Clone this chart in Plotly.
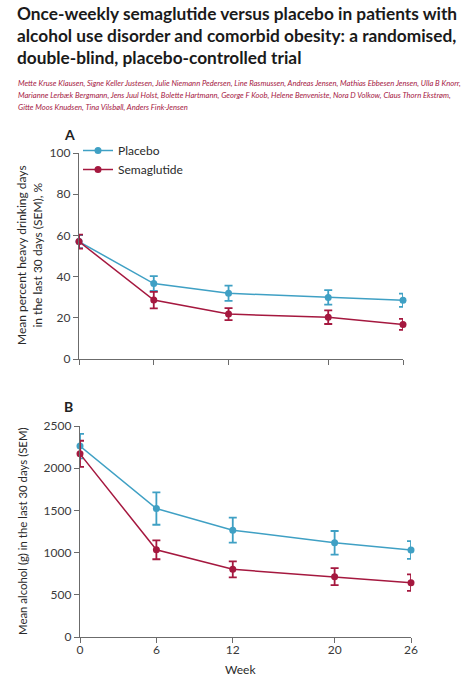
import plotly.graph_objects as go

weeks = [0, 6, 12, 20, 26]

# Panel A: mean percent heavy drinking days (SEM)
hdd_placebo = [57.0, 36.6, 31.9, 29.9, 28.5]
hdd_placebo_sem = [3.2, 3.6, 3.7, 3.5, 3.2]
hdd_sema = [57.0, 28.6, 21.8, 20.3, 16.8]
hdd_sema_sem = [3.4, 4.0, 2.9, 3.3, 2.7]

# Panel B: mean alcohol (g) in the last 30 days (SEM)
alc_placebo = [2262, 1522, 1266, 1116, 1030]
alc_placebo_sem = [145, 192, 148, 140, 105]
alc_sema = [2170, 1033, 802, 715, 644]
alc_sema_sem = [155, 112, 95, 100, 98]

series_names = ["Placebo", "Semaglutide"]
col_placebo = "#3fa0c4"
col_sema = "#a5183f"

title_lines = [
    "Once-weekly semaglutide versus placebo in patients with",
    "alcohol use disorder and comorbid obesity: a randomised,",
    "double-blind, placebo-controlled trial",
]
author_lines = [
    "Mette Kruse Klausen, Signe Keller Justesen, Julie Niemann Pedersen, Line Rasmussen, Andreas Jensen, Mathias Ebbesen Jensen, Ulla B Knorr,",
    "Marianne Lerbæk Bergmann, Jens Juul Holst, Bolette Hartmann, George F Koob, Helene Benveniste, Nora D Volkow, Claus Thorn Ekstrøm,",
    "Gitte Moos Knudsen, Tina Vilsbøll, Anders Fink-Jensen",
]

FONT = "Lato"
W, H = 472, 680


def px(x):
    return x / W


def py(y):
    return 1 - y / H


fig = go.Figure()


def add_series(x, y, e, name, color, xa, ya, show):
    fig.add_trace(go.Scatter(
        x=x, y=y, name=name, mode="lines+markers",
        line=dict(color=color, width=1.5),
        marker=dict(color=color, size=7),
        error_y=dict(type="data", array=e, visible=True, color=color,
                     thickness=1.8, width=4),
        xaxis=xa, yaxis=ya, showlegend=show, cliponaxis=False,
    ))


add_series(weeks, hdd_placebo, hdd_placebo_sem, series_names[0], col_placebo, "x", "y", True)
add_series(weeks, hdd_sema, hdd_sema_sem, series_names[1], col_sema, "x", "y", True)
add_series(weeks, alc_placebo, alc_placebo_sem, series_names[0], col_placebo, "x2", "y2", False)
add_series(weeks, alc_sema, alc_sema_sem, series_names[1], col_sema, "x2", "y2", False)

axis_common = dict(showline=True, linecolor="#6b6b6b", linewidth=1.4,
                   ticks="outside", tickcolor="#6b6b6b", ticklen=5, tickwidth=1.4,
                   showgrid=False, zeroline=False, automargin=False,
                   tickfont=dict(family=FONT, size=12, color="#3a3a3a"))

fig.update_layout(
    width=W, height=H,
    margin=dict(l=0, r=0, t=0, b=0, autoexpand=False),
    paper_bgcolor="white", plot_bgcolor="white",
    font=dict(family=FONT, color="#333"),
    xaxis=dict(domain=[px(79), px(403)], range=[0, 26], tickvals=weeks,
               showticklabels=False, anchor="y", **axis_common),
    yaxis=dict(domain=[py(359), py(153)], range=[0, 100],
               tickvals=[0, 20, 40, 60, 80, 100], anchor="x", **axis_common),
    xaxis2=dict(domain=[px(80), px(411)], range=[0, 26], tickvals=weeks,
                anchor="y2", ticklabelstandoff=-4, **axis_common),
    yaxis2=dict(domain=[py(637), py(426)], range=[0, 2500],
                tickvals=[0, 500, 1000, 1500, 2000, 2500], anchor="x2", **axis_common),
    legend=dict(x=px(78), y=py(136), xanchor="left", yanchor="top",
                bgcolor="rgba(0,0,0,0)", font=dict(family=FONT, size=12, color="#2a2a2a"),
                tracegroupgap=0, itemwidth=30),
    showlegend=True,
)

ann = []
for i, t in enumerate(title_lines):
    ann.append(dict(text=t, x=px(15), y=py(13 + 22 * i), xref="paper", yref="paper",
                    xanchor="left", yanchor="middle", showarrow=False,
                    font=dict(family=FONT, size=17.3, color="#1a1a1a", weight="bold")))
for i, t in enumerate(author_lines):
    ann.append(dict(text="<i>" + t + "</i>", x=px(16), y=py(83 + 12 * i), xref="paper", yref="paper",
                    xanchor="left", yanchor="middle", showarrow=False,
                    font=dict(family=FONT, size=7.65, color="#a5183f")))
ann.append(dict(text="<b>A</b>", x=px(62), y=py(135), xref="paper", yref="paper",
                xanchor="left", yanchor="middle", showarrow=False,
                font=dict(family=FONT, size=14, color="#222")))
ann.append(dict(text="<b>B</b>", x=px(62), y=py(406), xref="paper", yref="paper",
                xanchor="left", yanchor="middle", showarrow=False,
                font=dict(family=FONT, size=14, color="#222")))
ann.append(dict(text="Mean percent heavy drinking days<br>in the last 30 days (SEM), %",
                x=px(29), y=py(255), xref="paper", yref="paper",
                xanchor="center", yanchor="middle", showarrow=False, textangle=-90,
                font=dict(family=FONT, size=12, color="#2a2a2a")))
ann.append(dict(text="Mean alcohol (g) in the last 30 days (SEM)",
                x=px(22), y=py(531), xref="paper", yref="paper",
                xanchor="center", yanchor="middle", showarrow=False, textangle=-90,
                font=dict(family=FONT, size=11.4, color="#2a2a2a")))
ann.append(dict(text="Week", x=px(240), y=py(669), xref="paper", yref="paper",
                xanchor="center", yanchor="middle", showarrow=False,
                font=dict(family=FONT, size=12, color="#2a2a2a")))
fig.update_layout(annotations=ann)

fig.write_html(
    "out.html",
    config={"displayModeBar": False},
    post_script="document.body.style.margin='0';document.body.style.overflow='hidden';",
)
